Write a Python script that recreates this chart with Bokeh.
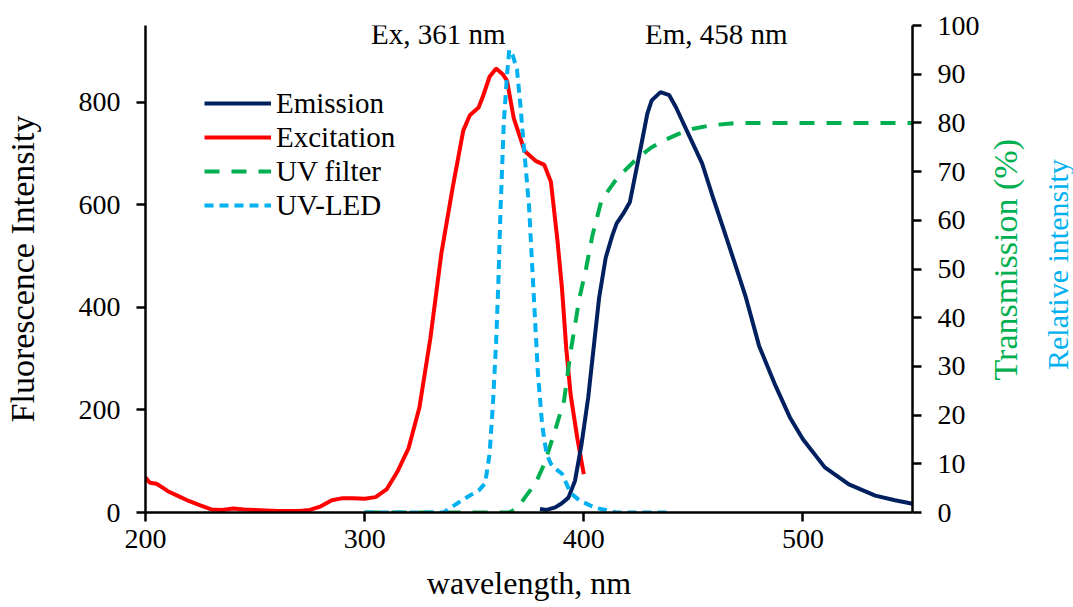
import math
from bokeh.plotting import figure
from bokeh.layouts import row
from bokeh.models import Range1d, LinearAxis, FixedTicker, Legend, LegendItem, Label
from bokeh.embed import file_html
from bokeh.resources import INLINE

FONT = "Liberation Serif"

# Excitation spectrum (left axis, fluorescence intensity)
ex_wl = [200, 202, 205, 208, 210, 215, 220, 225, 230, 235, 240, 245, 250, 260, 270, 275, 280, 285,
         290, 295, 300, 305, 310, 315, 320, 325, 330, 335, 340, 345, 348, 352, 354, 357, 360, 363,
         365, 368, 373, 378, 382, 385, 388, 390, 392, 394, 397, 400]
ex_int = [68, 58, 56, 48, 42, 32, 22, 14, 6, 5, 8, 6, 5, 3, 3, 5, 12, 24,
          28, 28, 27, 30, 45, 80, 125, 205, 340, 505, 630, 745, 775, 790, 812, 850, 866, 855,
          842, 770, 705, 686, 678, 645, 530, 440, 320, 230, 146, 75]

# Emission spectrum (left axis, fluorescence intensity)
em_wl = [380, 383, 387, 390, 393, 396, 399, 402, 405, 407, 410, 413, 415, 418, 421, 423, 426, 429,
         431, 435, 439, 442, 447, 454, 459, 464, 469, 474, 480, 487, 494, 500, 510, 521, 533, 542, 550]
em_int = [7, 5, 10, 18, 29, 62, 134, 224, 341, 419, 497, 540, 564, 583, 605, 648, 712, 778,
          804, 820, 814, 791, 745, 681, 614, 550, 485, 419, 325, 252, 186, 143, 88, 55, 33, 24, 17]

# UV filter transmission (right axis, %)
flt_wl = [300, 320, 340, 360, 366, 370, 373, 378, 382, 387, 391, 394, 398, 401, 404, 408, 411, 415,
          420, 425, 431, 437, 443, 450, 458, 470, 490, 520, 550]
flt_t = [0, 0, 0, 0, 0, 1, 3, 6, 10, 17, 23, 33, 44, 50, 57, 64, 66, 68.5,
         70.8, 73, 75, 76.5, 77.7, 78.8, 79.5, 80, 80, 80, 80]

# UV-LED relative intensity (right axis)
led_wl = [300, 310, 320, 330, 336, 340, 344, 348, 352, 355, 357, 358.5, 360, 361, 362, 363.5, 365,
          366, 367.5, 369.5, 371, 372.5, 375, 377, 379, 381, 383, 385, 387, 390, 394, 398, 405, 415,
          425, 440]
led_rel = [0, 0, 0, 0, 0, 1.2, 2.4, 3.5, 4.5, 6, 12, 22, 35, 47, 62, 80, 90,
           95, 94, 91, 84, 76, 63, 46, 29, 18, 12, 10, 9, 8, 4, 2.5, 1, 0,
           0, 0]

x_ticks = [200, 300, 400, 500]
left_ticks = [0, 200, 400, 600, 800]
right_ticks = [0, 10, 20, 30, 40, 50, 60, 70, 80, 90, 100]
series_names = ["Emission", "Excitation", "UV filter", "UV-LED"]
peak_notes = [("Ex, 361 nm", 333.6), ("Em, 458 nm", 460.5)]

p = figure(width=985, height=607, output_backend="svg", toolbar_location=None,
           x_range=Range1d(200, 550), y_range=Range1d(0, 950),
           min_border_left=144, min_border_right=73, min_border_top=25, min_border_bottom=95)
p.extra_y_ranges = {"right": Range1d(0, 100)}
p.outline_line_color = None
p.xgrid.visible = False
p.ygrid.visible = False
p.background_fill_color = "white"

def style_axis(ax, size="28px"):
    ax.axis_line_color = "black"
    ax.axis_line_width = 2.5
    ax.major_tick_line_color = "black"
    ax.major_tick_line_width = 2.5
    ax.major_tick_out = 9
    ax.major_tick_in = 0
    ax.minor_tick_line_color = None
    ax.major_label_text_font = FONT
    ax.major_label_text_font_size = size
    ax.major_label_text_color = "black"
    ax.axis_label_text_font = FONT
    ax.axis_label_text_font_style = "normal"
    ax.axis_label_text_color = "black"

xa = p.xaxis[0]
style_axis(xa)
xa.ticker = FixedTicker(ticks=x_ticks)
xa.major_label_standoff = 8
xa.axis_label = "wavelength, nm"
xa.axis_label_text_font_size = "32px"
xa.axis_label_standoff = 14

ya = p.yaxis[0]
style_axis(ya)
ya.ticker = FixedTicker(ticks=left_ticks)
ya.axis_label = "Fluorescence Intensity"
ya.axis_label_text_font_size = "34px"
ya.major_label_standoff = 16
ya.axis_label_standoff = 35

ra = LinearAxis(y_range_name="right", ticker=FixedTicker(ticks=right_ticks))
style_axis(ra)
ra.major_label_standoff = 16
p.add_layout(ra, "right")

r_ex = p.line(ex_wl, ex_int, line_color="#FF0000", line_width=4)
r_em = p.line(em_wl, em_int, line_color="#002060", line_width=4)
r_flt = p.line(flt_wl, flt_t, line_color="#00B050", line_width=4, line_dash="15 12",
               y_range_name="right")
r_led = p.line(led_wl, led_rel, line_color="#00B0F0", line_width=4, line_dash="9 6",
               y_range_name="right")

legend = Legend(items=[LegendItem(label=series_names[0], renderers=[r_em]),
                       LegendItem(label=series_names[1], renderers=[r_ex]),
                       LegendItem(label=series_names[2], renderers=[r_flt]),
                       LegendItem(label=series_names[3], renderers=[r_led])],
                location=(59, 290))
legend.background_fill_alpha = 0
legend.border_line_color = None
legend.padding = 0
legend.margin = 0
legend.spacing = 0
legend.glyph_height = 34
legend.label_height = 34
legend.glyph_width = 67
legend.label_standoff = 5
legend.label_text_font = FONT
legend.label_text_font_size = "29px"
legend.label_text_color = "black"
p.add_layout(legend)

for txt, xv in peak_notes:
    p.add_layout(Label(x=xv, y=98.2, y_range_name="right", text=txt, text_align="center",
                       text_baseline="middle", text_font=FONT, text_font_size="29px",
                       text_color="black"))

# right-hand titles drawn in a narrow side figure (pixel-unit ranges)
side = figure(width=88, height=607, output_backend="svg", toolbar_location=None,
              x_range=Range1d(0, 88), y_range=Range1d(0, 607), min_border=0)
side.axis.visible = False
side.xgrid.visible = False
side.ygrid.visible = False
side.outline_line_color = None
side.add_layout(Label(x=20, y=315, text="Transmission (%)", angle=math.pi / 2,
                      text_align="center", text_baseline="middle", text_font=FONT,
                      text_font_size="34px", text_color="#00B050"))
side.add_layout(Label(x=72, y=309, text="Relative intensity", angle=math.pi / 2,
                      text_align="center", text_baseline="middle", text_font=FONT,
                      text_font_size="30px", text_color="#00B0F0"))

layout = row(p, side, spacing=0)
open("out.html", "w").write(file_html(layout, INLINE))
